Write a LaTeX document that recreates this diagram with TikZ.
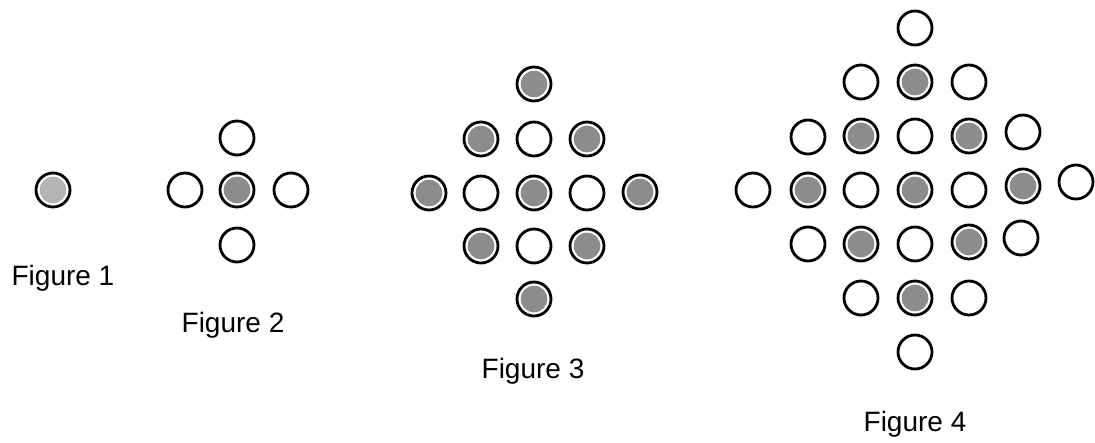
\documentclass[tikz,border=0pt]{standalone}
\usepackage{fontspec}
\setmainfont{Liberation Sans}
\definecolor{dotgray}{HTML}{8C8C8C}
\definecolor{lightdot}{HTML}{B4B4B4}
\begin{document}
\begin{tikzpicture}[x=1pt,y=-1pt,
  open/.style={circle,draw=black,line width=2.8pt,fill=white,minimum size=34pt,inner sep=0pt},
  full/.style={open,path picture={\fill[dotgray] (path picture bounding box.center) circle (13.3pt);}},
  light/.style={open,path picture={\fill[lightdot] (path picture bounding box.center) circle (13.3pt);}},
  lbl/.style={font=\fontsize{28}{32}\selectfont,inner sep=0pt,anchor=base}]
\useasboundingbox (0,0) rectangle (1095,442);
% Figure 1
\node[light] (a1) at (53,190) {};
\node[lbl] (l1) at (63,285) {Figure 1};
% Figure 2
\node[full] (b0) at (237,190) {};
\node[open] (bl) at (185,190) {};
\node[open] (br) at (291,190) {};
\node[open] (bt) at (237,138) {};
\node[open] (bb) at (237,245) {};
\node[lbl] (l2) at (233,332) {Figure 2};
% Figure 3
\node[full] (c00) at (534,84) {};
\node[full] (c10) at (481,139) {};
\node[open] (c11) at (534,139) {};
\node[full] (c12) at (587,139) {};
\node[full] (c20) at (429,193) {};
\node[open] (c21) at (481,193) {};
\node[full] (c22) at (534,193) {};
\node[open] (c23) at (587,193) {};
\node[full] (c24) at (640,192) {};
\node[full] (c30) at (481,246) {};
\node[open] (c31) at (534,246) {};
\node[full] (c32) at (587,246) {};
\node[full] (c40) at (534,299) {};
\node[lbl] (l3) at (533,378) {Figure 3};
% Figure 4
\node[open] (d00) at (915,28) {};
\node[open] (d10) at (861,82) {};
\node[full] (d11) at (915,82) {};
\node[open] (d12) at (969,82) {};
\node[open] (d20) at (808,137) {};
\node[full] (d21) at (861,136) {};
\node[open] (d22) at (915,136) {};
\node[full] (d23) at (969,136) {};
\node[open] (d24) at (1023,132) {};
\node[open] (d30) at (753,190) {};
\node[full] (d31) at (808,190) {};
\node[open] (d32) at (861,190) {};
\node[full] (d33) at (915,190) {};
\node[open] (d34) at (969,190) {};
\node[full] (d35) at (1023,186) {};
\node[open] (d36) at (1076,182) {};
\node[open] (d40) at (808,244) {};
\node[full] (d41) at (861,244) {};
\node[open] (d42) at (915,244) {};
\node[full] (d43) at (969,242) {};
\node[open] (d44) at (1021,238) {};
\node[open] (d50) at (861,298) {};
\node[full] (d51) at (915,298) {};
\node[open] (d52) at (969,298) {};
\node[open] (d60) at (915,352) {};
\node[lbl] (l4) at (915,431) {Figure 4};
\end{tikzpicture}
\end{document}
